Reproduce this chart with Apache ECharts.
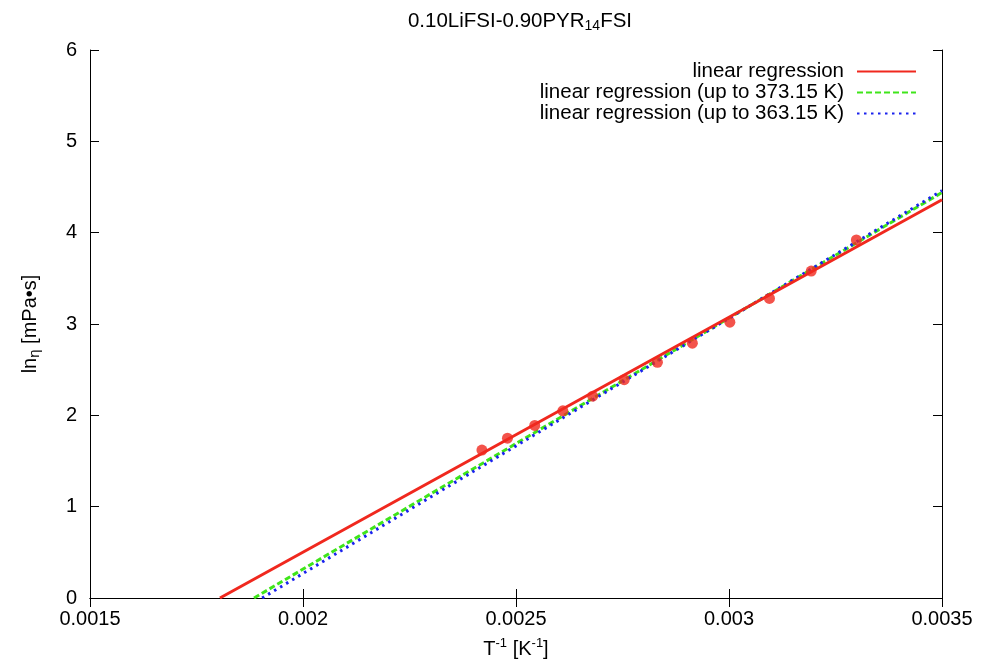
<!DOCTYPE html>
<html>
<head>
<meta charset="utf-8">
<script src="https://cdn.jsdelivr.net/npm/echarts@6/dist/echarts.min.js"></script>
<style>html,body{margin:0;padding:0;background:#fff}#c{width:983px;height:666px}</style>
</head>
<body>
<div id="c"></div>
<script>
// measured points: inverse temperature [1/K] and ln(viscosity)
var invT = [0.00242, 0.00248, 0.002544, 0.00261, 0.00268, 0.002754, 0.002832, 0.002914, 0.003002, 0.003095, 0.003193, 0.003299];
var lnEta = [1.62, 1.75, 1.89, 2.05, 2.21, 2.39, 2.58, 2.79, 3.02, 3.28, 3.58, 3.92];
// regression line endpoints [x, y]
var regAll = [[0.001805, 0], [0.0035, 4.36]];
var reg373 = [[0.001885, 0], [0.0035, 4.44]];
var reg363 = [[0.001904, 0], [0.0035, 4.46]];
var xTicks = [0.0015, 0.002, 0.0025, 0.003, 0.0035];
var yTicks = [0, 1, 2, 3, 4, 5, 6];
var names = ['linear regression', 'linear regression (up to 373.15 K)', 'linear regression (up to 363.15 K)'];

var FONT = 'Liberation Sans';
var chart = echarts.init(document.getElementById('c'));
var pts = invT.map(function (x, i) { return [x, lnEta[i]]; });
function fmt(v) { return String(parseFloat(v.toPrecision(4))); }

var axisLineStyle = { color: '#000', width: 1 };
chart.setOption({
  animation: false,
  backgroundColor: '#fff',
  title: {
    text: '{m|0.10LiFSI-0.90PYR}{s|14}{m|FSI}',
    left: 515, top: 4, textAlign: 'center',
    textStyle: {
      fontWeight: 'normal',
      rich: {
        m: { fontFamily: FONT, fontSize: 20.5, color: '#000', fontWeight: 'normal' },
        s: { fontFamily: FONT, fontSize: 14, color: '#000', fontWeight: 'normal', padding: [10, 0, 0, 0] }
      }
    }
  },
  legend: {
    data: names,
    orient: 'vertical', right: 61, top: 56, align: 'right',
    itemWidth: 59, itemHeight: 14, itemGap: 0,
    itemStyle: { color: 'rgba(0,0,0,0)', borderWidth: 0 },
    textStyle: { fontFamily: FONT, fontSize: 20.5, lineHeight: 21, color: '#000', padding: [0, 8, 0, 0] }
  },
  grid: { left: 90, right: 41, top: 50, bottom: 68 },
  xAxis: [{
    type: 'value', min: xTicks[0], max: xTicks[xTicks.length - 1], interval: 0.0005,
    position: 'bottom',
    name: '{m|T}{p|-1}{m| [K}{p|-1}{m|]}', nameLocation: 'middle', nameGap: 39,
    nameTextStyle: {
      rich: {
        m: { fontFamily: FONT, fontSize: 20, color: '#000' },
        p: { fontFamily: FONT, fontSize: 13, color: '#000', padding: [0, 0, 12, 0] }
      }
    },
    axisLine: { show: true, lineStyle: axisLineStyle },
    axisTick: { show: true, inside: true, length: 9, lineStyle: axisLineStyle },
    axisLabel: { fontFamily: FONT, fontSize: 20, color: '#000', margin: 11, formatter: fmt },
    splitLine: { show: false }
  }, {
    type: 'value', min: xTicks[0], max: xTicks[xTicks.length - 1], interval: 0.0005,
    position: 'top',
    axisLine: { show: true, lineStyle: axisLineStyle },
    axisTick: { show: true, inside: true, length: 9, lineStyle: axisLineStyle },
    axisLabel: { show: false }, splitLine: { show: false }
  }],
  yAxis: [{
    type: 'value', min: yTicks[0], max: yTicks[yTicks.length - 1], interval: 1,
    position: 'left',
    name: '{m|ln}{s|η}{m| [mPa•s]}', nameLocation: 'middle', nameGap: 48, nameRotate: 90,
    nameTextStyle: {
      rich: {
        m: { fontFamily: FONT, fontSize: 20, color: '#000' },
        s: { fontFamily: FONT, fontSize: 15, color: '#000', padding: [9, 0, 0, 0] }
      }
    },
    axisLine: { show: true, lineStyle: axisLineStyle },
    axisTick: { show: true, inside: true, length: 9, lineStyle: axisLineStyle },
    axisLabel: { fontFamily: FONT, fontSize: 20, color: '#000', margin: 13 },
    splitLine: { show: false }
  }, {
    type: 'value', min: yTicks[0], max: yTicks[yTicks.length - 1], interval: 1,
    position: 'right',
    axisLine: { show: true, lineStyle: axisLineStyle },
    axisTick: { show: true, inside: true, length: 9, lineStyle: axisLineStyle },
    axisLabel: { show: false }, splitLine: { show: false }
  }],
  series: [
    {
      name: 'data', type: 'scatter', data: pts, symbol: 'circle', symbolSize: 11,
      itemStyle: { color: '#f0281e' }, z: 5
    },
    {
      name: names[0], type: 'line', data: regAll, symbol: 'none', clip: true,
      lineStyle: { color: '#f0281e', width: 3, type: 'solid' }, itemStyle: { color: '#f0281e' }, z: 4
    },
    {
      name: names[1], type: 'line', data: reg373, symbol: 'none', clip: true,
      lineStyle: { color: '#3fe51a', width: 3, type: [6, 3] }, itemStyle: { color: '#3fe51a' }, z: 3
    },
    {
      name: names[2], type: 'line', data: reg363, symbol: 'none', clip: true,
      lineStyle: { color: '#1a22ee', width: 3, type: [2.5, 4.5] }, itemStyle: { color: '#1a22ee' }, z: 3
    }
  ]
});
</script>
</body>
</html>
